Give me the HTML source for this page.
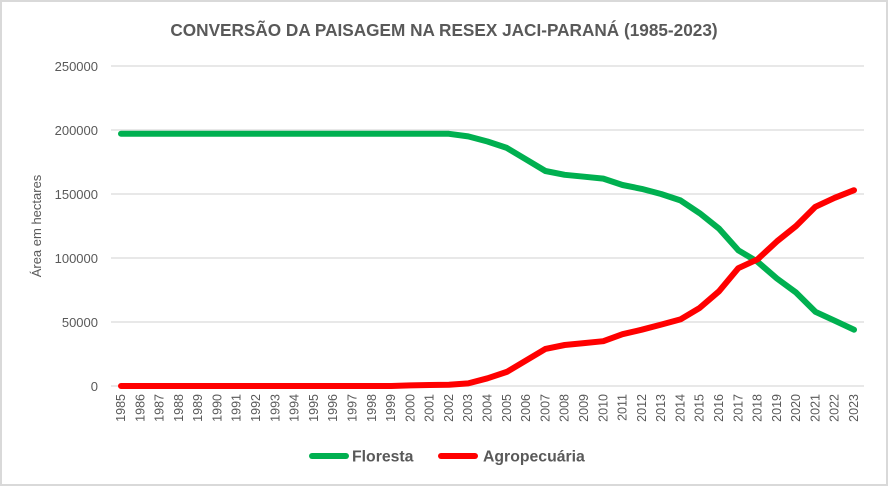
<!DOCTYPE html>
<html><head><meta charset="utf-8"><style>
body{margin:0;background:#fff}
svg{display:block;font-family:"Liberation Sans",Arial,sans-serif}
</style></head><body>
<svg width="888" height="486" viewBox="0 0 888 486" xmlns="http://www.w3.org/2000/svg">
<rect x="1" y="1" width="886" height="484" fill="#fff" stroke="#d9d9d9" stroke-width="2"/>
<text x="444" y="36" text-anchor="middle" font-size="17.2" font-weight="bold" fill="#595959">CONVERSÃO DA PAISAGEM NA RESEX JACI-PARANÁ (1985-2023)</text>
<g stroke="#d9d9d9" stroke-width="1.3">
<line x1="111" y1="66" x2="864" y2="66"/>
<line x1="111" y1="130" x2="864" y2="130"/>
<line x1="111" y1="194" x2="864" y2="194"/>
<line x1="111" y1="258" x2="864" y2="258"/>
<line x1="111" y1="322" x2="864" y2="322"/>
<line x1="111" y1="386" x2="864" y2="386"/>
</g>
<g font-size="13" fill="#595959" text-anchor="end">
<text x="98" y="71">250000</text>
<text x="98" y="135">200000</text>
<text x="98" y="199">150000</text>
<text x="98" y="263">100000</text>
<text x="98" y="327">50000</text>
<text x="98" y="391">0</text>
</g>
<text transform="translate(41,226) rotate(-90)" text-anchor="middle" font-size="13" fill="#595959">Área em hectares</text>
<g font-size="12.5" fill="#595959" text-anchor="end">
<text transform="translate(125,394) rotate(-90)">1985</text>
<text transform="translate(144.3,394) rotate(-90)">1986</text>
<text transform="translate(163.6,394) rotate(-90)">1987</text>
<text transform="translate(182.9,394) rotate(-90)">1988</text>
<text transform="translate(202.2,394) rotate(-90)">1989</text>
<text transform="translate(221.5,394) rotate(-90)">1990</text>
<text transform="translate(240.7,394) rotate(-90)">1991</text>
<text transform="translate(260,394) rotate(-90)">1992</text>
<text transform="translate(279.3,394) rotate(-90)">1993</text>
<text transform="translate(298.6,394) rotate(-90)">1994</text>
<text transform="translate(317.9,394) rotate(-90)">1995</text>
<text transform="translate(337.2,394) rotate(-90)">1996</text>
<text transform="translate(356.5,394) rotate(-90)">1997</text>
<text transform="translate(375.8,394) rotate(-90)">1998</text>
<text transform="translate(395.1,394) rotate(-90)">1999</text>
<text transform="translate(414.4,394) rotate(-90)">2000</text>
<text transform="translate(433.6,394) rotate(-90)">2001</text>
<text transform="translate(452.9,394) rotate(-90)">2002</text>
<text transform="translate(472.2,394) rotate(-90)">2003</text>
<text transform="translate(491.5,394) rotate(-90)">2004</text>
<text transform="translate(510.8,394) rotate(-90)">2005</text>
<text transform="translate(530.1,394) rotate(-90)">2006</text>
<text transform="translate(549.4,394) rotate(-90)">2007</text>
<text transform="translate(568.7,394) rotate(-90)">2008</text>
<text transform="translate(588,394) rotate(-90)">2009</text>
<text transform="translate(607.3,394) rotate(-90)">2010</text>
<text transform="translate(626.5,394) rotate(-90)">2011</text>
<text transform="translate(645.8,394) rotate(-90)">2012</text>
<text transform="translate(665.1,394) rotate(-90)">2013</text>
<text transform="translate(684.4,394) rotate(-90)">2014</text>
<text transform="translate(703.7,394) rotate(-90)">2015</text>
<text transform="translate(723,394) rotate(-90)">2016</text>
<text transform="translate(742.3,394) rotate(-90)">2017</text>
<text transform="translate(761.6,394) rotate(-90)">2018</text>
<text transform="translate(780.9,394) rotate(-90)">2019</text>
<text transform="translate(800.2,394) rotate(-90)">2020</text>
<text transform="translate(819.4,394) rotate(-90)">2021</text>
<text transform="translate(838.7,394) rotate(-90)">2022</text>
<text transform="translate(858,394) rotate(-90)">2023</text>
</g>
<polyline id="f" fill="none" stroke="#00b050" stroke-width="6" stroke-linejoin="round" stroke-linecap="round" points=""/>
<polyline id="a" fill="none" stroke="#ff0000" stroke-width="6" stroke-linejoin="round" stroke-linecap="round" points=""/>
<line x1="312" y1="456" x2="346" y2="456" stroke="#00b050" stroke-width="6" stroke-linecap="round"/>
<text x="352" y="461.5" font-size="15.8" font-weight="bold" fill="#595959">Floresta</text>
<line x1="441" y1="456" x2="475" y2="456" stroke="#ff0000" stroke-width="6" stroke-linecap="round"/>
<text x="483" y="461.5" font-size="15.8" font-weight="bold" fill="#595959">Agropecuária</text>
<script>
var F=[197000,197000,197000,197000,197000,197000,197000,197000,197000,197000,197000,197000,197000,197000,197000,197000,197000,197000,195000,191000,186000,177000,168000,165000,163500,162000,157000,154000,150000,145000,135000,123000,106000,97000,84000,73000,58000,51000,44000];
var A=[0,0,0,0,0,0,0,0,0,0,0,0,0,0,0,500,800,1000,2000,6000,11000,20000,29000,32000,33500,35000,40500,44000,48000,52000,61000,74000,92000,99000,113000,125000,140000,147000,153000];
function pts(d){return d.map(function(v,i){return (121+i*19.29).toFixed(1)+","+(386-v*0.00128).toFixed(1)}).join(" ")}
document.getElementById("f").setAttribute("points",pts(F));
document.getElementById("a").setAttribute("points",pts(A));
</script>
</svg>
</body></html>
